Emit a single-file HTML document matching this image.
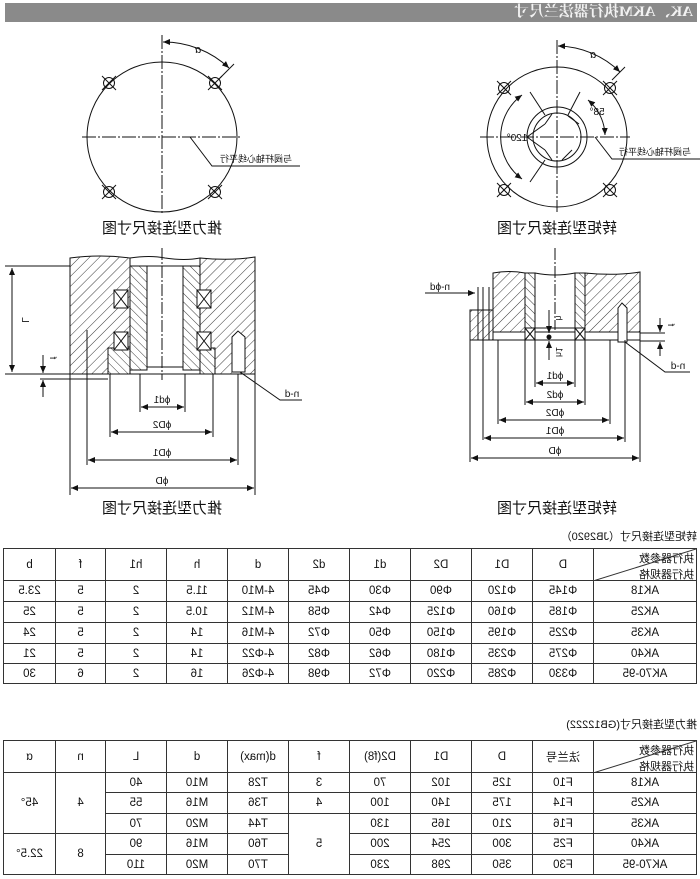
<!DOCTYPE html>
<html><head><meta charset="utf-8">
<style>
html,body{margin:0;padding:0;background:#fff}
body{width:700px;height:879px;position:relative;overflow:hidden;font-family:"Liberation Sans","Noto Sans CJK SC",sans-serif;color:#111}
.m{position:absolute;left:0;top:0;width:700px;height:879px;transform:scaleX(-1);transform-origin:350px 0}
table{position:absolute;border-collapse:collapse;table-layout:fixed;font-size:11.5px}
td{border:1px solid #333;text-align:center;padding:0;overflow:hidden;white-space:nowrap}
.diag{position:relative}
.diag span{position:absolute;font-size:11px}
.tt{position:absolute;font-size:11px}
</style></head><body>
<svg width="700" height="879" style="position:absolute;left:0;top:0" font-family="Liberation Sans,Noto Sans CJK SC,sans-serif">
<defs>
<pattern id="h1" width="7" height="7" patternUnits="userSpaceOnUse" patternTransform="rotate(45)"><line x1="0" y1="0" x2="0" y2="7" stroke="#222" stroke-width="0.9"/></pattern>
<pattern id="h2" width="6" height="6" patternUnits="userSpaceOnUse" patternTransform="rotate(-45)"><line x1="0" y1="0" x2="0" y2="6" stroke="#222" stroke-width="0.9"/></pattern>
<marker id="a" markerWidth="8" markerHeight="6" refX="7" refY="3" orient="auto-start-reverse"><path d="M0,0 L7,3 L0,6 Z" fill="#111"/></marker>
<g id="bh" stroke="#111" fill="none"><circle r="5.5"/><line x1="-7" y1="-7" x2="7" y2="7"/><line x1="-7" y1="7" x2="7" y2="-7"/></g>
</defs>
<rect x="5" y="3" width="692" height="19" fill="#8a8a8a"/>
<g stroke="#111" stroke-width="1" fill="none">
<circle cx="162" cy="137" r="75"/>
<line x1="82" y1="137" x2="242" y2="137" stroke-dasharray="14,2,2,2"/>
<line x1="162" y1="35" x2="162" y2="215" stroke-dasharray="14,2,2,2"/>
<use href="#bh" x="109" y="83"/><use href="#bh" x="215" y="83"/><use href="#bh" x="109" y="192"/><use href="#bh" x="215" y="192"/>
<path d="M163,42 A95,95 0 0 1 229,68" marker-start="url(#a)" marker-end="url(#a)"/>
<line x1="220" y1="78" x2="234" y2="64"/>
<path d="M190,137 L212,166 L300,166"/>
<circle cx="557" cy="137" r="70"/>
<circle cx="557" cy="137" r="30"/>
<circle cx="557" cy="137" r="24"/>
<line x1="480" y1="137" x2="630" y2="137" stroke-dasharray="14,2,2,2"/>
<line x1="557" y1="40" x2="557" y2="212" stroke-dasharray="14,2,2,2"/>
<use href="#bh" x="504" y="88"/><use href="#bh" x="610" y="88"/><use href="#bh" x="504" y="190"/><use href="#bh" x="610" y="190"/>
<path d="M558,46 A91,91 0 0 1 620,72" marker-start="url(#a)" marker-end="url(#a)"/>
<line x1="612" y1="80" x2="625" y2="67"/>
<path d="M522,95 A52,52 0 0 0 522,179" marker-start="url(#a)" marker-end="url(#a)"/>
<line x1="530" y1="92" x2="545" y2="115"/><line x1="530" y1="182" x2="545" y2="160"/>
<line x1="527" y1="137" x2="545" y2="124"/><line x1="527" y1="137" x2="545" y2="150"/>
<line x1="580" y1="92" x2="568" y2="115"/>
<path d="M588,100 A48,48 0 0 1 605,135" marker-start="url(#a)" marker-end="url(#a)"/>
<line x1="545" y1="124" x2="552" y2="114"/><line x1="568" y1="116" x2="579" y2="124"/>
<line x1="545" y1="150" x2="552" y2="160"/><line x1="562" y1="160" x2="572" y2="150"/>
<path d="M595,137 L612,159 L700,159"/>
</g>
<g stroke="#111" stroke-width="1">
<path d="M70,258 Q100,254 130,258 L130,348 L108,348 L108,374 L70,374 Z" fill="url(#h1)"/>
<path d="M200,258 Q230,261 255,257 L255,374 L215,374 L215,348 L200,348 Z" fill="url(#h1)"/>
<path d="M130,266 L147,266 L147,370 L130,370 Z" fill="url(#h2)"/>
<path d="M183,266 L200,266 L200,370 L183,370 Z" fill="url(#h2)"/>
<path d="M108,348 L130,348 L130,374 L108,374 Z" fill="url(#h2)"/>
<path d="M200,348 L215,348 L215,374 L200,374 Z" fill="url(#h2)"/>
<rect x="147" y="266" width="36" height="101" fill="#fff"/>
<path d="M130,258 Q150,255 165,258 Q185,261 200,258" fill="none"/>
<g fill="#fff">
<rect x="114" y="290" width="14" height="18"/><rect x="114" y="332" width="14" height="18"/>
<rect x="197" y="290" width="14" height="18"/><rect x="197" y="332" width="14" height="18"/>
<path d="M232,372 L232,337 L238,331 L245,337 L245,372 Z"/>
</g>
<g fill="none">
<path d="M114,290 L128,308 M128,290 L114,308 M114,332 L128,350 M128,332 L114,350 M197,290 L211,308 M211,290 L197,308 M197,332 L211,350 M211,332 L197,350"/>
<line x1="40" y1="374" x2="255" y2="374"/>
<line x1="40" y1="379" x2="108" y2="379"/>
<line x1="5" y1="266" x2="70" y2="266"/>
<line x1="5" y1="374" x2="40" y2="374"/>
<line x1="12" y1="268" x2="12" y2="372" marker-start="url(#a)" marker-end="url(#a)"/>
<line x1="43" y1="355" x2="43" y2="373" marker-end="url(#a)"/><line x1="43" y1="397" x2="43" y2="380" marker-end="url(#a)"/>
<line x1="162" y1="248" x2="162" y2="380" stroke-dasharray="12,2,2,2"/>
<line x1="70" y1="374" x2="70" y2="495"/><line x1="255" y1="374" x2="255" y2="495"/>
<line x1="87" y1="330" x2="87" y2="465"/><line x1="238" y1="374" x2="238" y2="465"/>
<line x1="110" y1="374" x2="110" y2="437"/><line x1="213" y1="374" x2="213" y2="437"/>
<line x1="140" y1="374" x2="140" y2="412"/><line x1="185" y1="374" x2="185" y2="412"/>
<line x1="141" y1="407" x2="184" y2="407" marker-start="url(#a)" marker-end="url(#a)"/>
<line x1="111" y1="432" x2="212" y2="432" marker-start="url(#a)" marker-end="url(#a)"/>
<line x1="88" y1="460" x2="237" y2="460" marker-start="url(#a)" marker-end="url(#a)"/>
<line x1="71" y1="488" x2="254" y2="488" marker-start="url(#a)" marker-end="url(#a)"/>
<path d="M240,372 L280,400 L302,400"/>
</g>
</g>
<g stroke="#111" stroke-width="1">
<path d="M493,273 Q510,270 525,273 L525,332 L493,332 Z" fill="url(#h1)"/>
<path d="M585,273 Q615,276 640,272 L640,332 L585,332 Z" fill="url(#h1)"/>
<path d="M525,273 L535,273 L535,328 L525,328 Z" fill="url(#h2)"/>
<path d="M575,273 L585,273 L585,328 L575,328 Z" fill="url(#h2)"/>
<path d="M470,310 L493,310 L493,340 L470,340 Z" fill="url(#h1)"/>
<path d="M535,273 Q555,277 575,273" fill="none"/>
<g fill="#fff">
<rect x="493" y="332" width="147" height="8"/>
<rect x="525" y="328" width="10" height="12"/><rect x="575" y="328" width="10" height="12"/>
<path d="M618,342 L618,308 L622,303 L627,308 L627,342 Z"/>
</g>
<g fill="none">
<path d="M525,328 L535,340 M535,328 L525,340 M575,328 L585,340 M585,328 L575,340"/>
<line x1="535" y1="328" x2="575" y2="328"/><line x1="535" y1="340" x2="575" y2="340"/>
<line x1="555" y1="248" x2="555" y2="330" stroke-dasharray="12,2,2,2"/>
<line x1="640" y1="333" x2="665" y2="333"/><line x1="640" y1="341" x2="665" y2="341"/>
<line x1="660" y1="318" x2="660" y2="332" marker-end="url(#a)"/><line x1="660" y1="356" x2="660" y2="342" marker-end="url(#a)"/>
<line x1="549" y1="310" x2="549" y2="333" marker-end="url(#a)"/><line x1="549" y1="360" x2="549" y2="341" marker-end="url(#a)"/>
<circle cx="549" cy="337" r="2" fill="#111"/>
<line x1="425" y1="293" x2="475" y2="293" marker-end="url(#a)"/>
<line x1="478" y1="287" x2="478" y2="340"/><line x1="483" y1="287" x2="483" y2="440"/><line x1="489" y1="287" x2="489" y2="340"/>
<line x1="470" y1="340" x2="470" y2="462"/><line x1="640" y1="340" x2="640" y2="462"/>
<line x1="625" y1="340" x2="625" y2="442"/>
<line x1="498" y1="340" x2="498" y2="424"/><line x1="610" y1="340" x2="610" y2="424"/>
<line x1="525" y1="340" x2="525" y2="405"/><line x1="585" y1="340" x2="585" y2="405"/>
<line x1="535" y1="340" x2="535" y2="387"/><line x1="575" y1="340" x2="575" y2="387"/>
<line x1="536" y1="383" x2="574" y2="383" marker-start="url(#a)" marker-end="url(#a)"/>
<line x1="526" y1="402" x2="584" y2="402" marker-start="url(#a)" marker-end="url(#a)"/>
<line x1="499" y1="420" x2="609" y2="420" marker-start="url(#a)" marker-end="url(#a)"/>
<line x1="484" y1="438" x2="624" y2="438" marker-start="url(#a)" marker-end="url(#a)"/>
<line x1="471" y1="458" x2="639" y2="458" marker-start="url(#a)" marker-end="url(#a)"/>
<path d="M625,342 L665,372 L690,372"/>
</g>
</g>
<g fill="#111" font-size="11" text-anchor="middle">
<text transform="translate(198,53) scale(-1,1)" font-style="italic">α</text>
<text transform="translate(256,162) scale(-1,1)" font-size="9">与阀杆轴心线平行</text>
<text transform="translate(162,233) scale(-1,1)" font-size="15">推力型连接尺寸图</text>
<text transform="translate(593,58) scale(-1,1)" font-style="italic">α</text>
<text transform="translate(597,115) scale(-1,1)" font-size="10">58°</text>
<text transform="translate(517,141) scale(-1,1)" font-size="10">120°</text>
<text transform="translate(655,155) scale(-1,1)" font-size="9">与阀杆轴心线平行</text>
<text transform="translate(557,233) scale(-1,1)" font-size="15">转矩型连接尺寸图</text>
<text transform="translate(162,403) scale(-1,1)" font-size="10">ϕd1</text>
<text transform="translate(162,428) scale(-1,1)" font-size="10">ϕD2</text>
<text transform="translate(162,456) scale(-1,1)" font-size="10">ϕD1</text>
<text transform="translate(162,484) scale(-1,1)" font-size="10">ϕD</text>
<text transform="translate(22,320) rotate(90) scale(-1,1)" font-size="10">L</text>
<text transform="translate(50,358) rotate(90) scale(-1,1)" font-size="9">f</text>
<text transform="translate(292,397) scale(-1,1)" font-size="10">n-d</text>
<text transform="translate(162,513) scale(-1,1)" font-size="15">推力型连接尺寸图</text>
<text transform="translate(555,379) scale(-1,1)" font-size="10">ϕd1</text>
<text transform="translate(555,398) scale(-1,1)" font-size="10">ϕd2</text>
<text transform="translate(555,416) scale(-1,1)" font-size="10">ϕD2</text>
<text transform="translate(555,434) scale(-1,1)" font-size="10">ϕD1</text>
<text transform="translate(555,454) scale(-1,1)" font-size="10">ϕD</text>
<text transform="translate(440,290) scale(-1,1)" font-size="10">n-ϕd</text>
<text transform="translate(678,369) scale(-1,1)" font-size="10">n-d</text>
<text transform="translate(556,318) rotate(90) scale(-1,1)" font-size="9">h</text>
<text transform="translate(556,352) rotate(90) scale(-1,1)" font-size="9">h1</text>
<text transform="translate(668,325) rotate(90) scale(-1,1)" font-size="9">f</text>
<text transform="translate(557,513) scale(-1,1)" font-size="15">转矩型连接尺寸图</text>
</g>
</svg>
<div class="m">
<div style="position:absolute;left:7px;top:3px;font:bold 15px 'Liberation Serif','Noto Serif CJK SC',serif;color:#f2f2f2;line-height:19px">AK、AKM执行器法兰尺寸</div>
<div class="tt" style="left:3px;top:528px">转矩型连接尺寸（JB2920）</div>
<table style="left:3px;top:548px;width:694px">
<colgroup><col style="width:103px"><col style="width:61px"><col style="width:61px"><col style="width:61px"><col style="width:61px"><col style="width:61px"><col style="width:61px"><col style="width:61px"><col style="width:61px"><col style="width:50px"><col style="width:52px"></colgroup>
<tr style="height:32px"><td class="diag"><svg width="103" height="32" style="position:absolute;left:0;top:0"><line x1="0" y1="0" x2="103" y2="32" stroke="#333"/></svg><span style="left:2px;top:1px">执行器参数</span><span style="left:2px;top:17px">执行器规格</span></td><td>D</td><td>D1</td><td>D2</td><td>d1</td><td>d2</td><td>d</td><td>h</td><td>h1</td><td>f</td><td>b</td></tr>
<tr style="height:21px"><td>AK18</td><td>Φ145</td><td>Φ120</td><td>Φ90</td><td>Φ30</td><td>Φ45</td><td>4-M10</td><td>11.5</td><td>2</td><td>5</td><td>23.5</td></tr>
<tr style="height:21px"><td>AK25</td><td>Φ185</td><td>Φ160</td><td>Φ125</td><td>Φ42</td><td>Φ58</td><td>4-M12</td><td>10.5</td><td>2</td><td>5</td><td>25</td></tr>
<tr style="height:21px"><td>AK35</td><td>Φ225</td><td>Φ195</td><td>Φ150</td><td>Φ50</td><td>Φ72</td><td>4-M16</td><td>14</td><td>2</td><td>5</td><td>24</td></tr>
<tr style="height:20px"><td>AK40</td><td>Φ275</td><td>Φ235</td><td>Φ180</td><td>Φ62</td><td>Φ82</td><td>4-Φ22</td><td>14</td><td>2</td><td>5</td><td>21</td></tr>
<tr style="height:20px"><td>AK70-95</td><td>Φ330</td><td>Φ285</td><td>Φ220</td><td>Φ72</td><td>Φ98</td><td>4-Φ26</td><td>16</td><td>2</td><td>6</td><td>30</td></tr>
</table>
<div class="tt" style="left:3px;top:716px">推力型连接尺寸(GB12222)</div>
<table style="left:3px;top:740px;width:694px">
<colgroup><col style="width:103px"><col style="width:61px"><col style="width:61px"><col style="width:61px"><col style="width:61px"><col style="width:61px"><col style="width:61px"><col style="width:61px"><col style="width:61px"><col style="width:50px"><col style="width:52px"></colgroup>
<tr style="height:32px"><td class="diag"><svg width="103" height="32" style="position:absolute;left:0;top:0"><line x1="0" y1="0" x2="103" y2="32" stroke="#333"/></svg><span style="left:2px;top:1px">执行器参数</span><span style="left:2px;top:17px">执行器规格</span></td><td>法兰号</td><td>D</td><td>D1</td><td>D2(f8)</td><td>f</td><td>d(max)</td><td>d</td><td>L</td><td>n</td><td>α</td></tr>
<tr style="height:20px"><td>AK18</td><td>F10</td><td>125</td><td>102</td><td>70</td><td>3</td><td>T28</td><td>M10</td><td>40</td><td rowspan="3">4</td><td rowspan="3">45°</td></tr>
<tr style="height:21px"><td>AK25</td><td>F14</td><td>175</td><td>140</td><td>100</td><td>4</td><td>T36</td><td>M16</td><td>55</td></tr>
<tr style="height:20px"><td>AK35</td><td>F16</td><td>210</td><td>165</td><td>130</td><td rowspan="3">5</td><td>T44</td><td>M20</td><td>70</td></tr>
<tr style="height:21px"><td>AK40</td><td>F25</td><td>300</td><td>254</td><td>200</td><td>T60</td><td>M16</td><td>90</td><td rowspan="2">8</td><td rowspan="2">22.5°</td></tr>
<tr style="height:20px"><td>AK70-95</td><td>F30</td><td>350</td><td>298</td><td>230</td><td>T70</td><td>M20</td><td>110</td></tr>
</table>
</div>
</body></html>
